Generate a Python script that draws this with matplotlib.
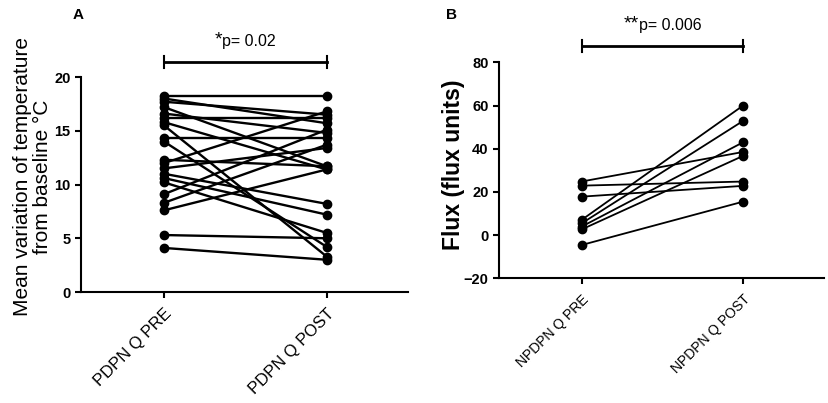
"""Paired pre/post plots, panels A and B"""
import matplotlib
matplotlib.use("Agg")
import matplotlib.pyplot as plt

plt.rcParams['font.family'] = ['Liberation Sans', 'DejaVu Sans']

# panel A: temperature variation (degC), one entry per subject
categories_a = ["PDPN Q PRE", "PDPN Q POST"]
pre_a = [18.2, 18.0, 17.7, 17.2, 16.6, 16.2, 15.8, 15.5, 14.3, 14.0, 12.3,
         12.0, 11.5, 11.0, 10.6, 10.2, 9.1, 8.3, 7.6, 5.3, 4.1]
post_a = [18.2, 15.7, 16.5, 11.7, 14.8, 16.2, 11.4, 3.3, 14.3, 4.2, 11.7,
          16.8, 13.4, 8.2, 7.2, 5.5, 15.1, 13.7, 11.4, 5.0, 3.0]
yticks_a = [0, 5, 10, 15, 20]
sig_a = "p= 0.02"
stars_a = "*"

# panel B: flux (flux units)
categories_b = ["NPDPN Q PRE", "NPDPN Q POST"]
pre_b = [24.8, 22.9, 17.8, 7.0, 5.4, 3.9, 2.6, -4.6]
post_b = [38.5, 24.8, 22.8, 60.0, 52.9, 43.0, 36.7, 15.5]
yticks_b = [-20, 0, 20, 40, 60, 80]
sig_b = "p= 0.006"
stars_b = "**"


def paired_panel(ax, pre, post, cats, yticks, lw, xfs):
    for a, b in zip(pre, post):
        ax.plot([0, 1], [a, b], color='black', lw=lw, marker='o',
                markersize=6, clip_on=False, zorder=3)
    ax.set_xlim(-0.51, 1.5)
    ax.set_ylim(yticks[0], yticks[-1])
    ax.set_yticks(yticks)
    ax.set_xticks([0, 1])
    ax.set_xticklabels(cats, rotation=45, ha='right', rotation_mode='anchor',
                       fontsize=xfs)
    for lab in ax.get_yticklabels():
        lab.set_fontweight('bold')
        lab.set_fontsize(10.5)
    for s in ['top', 'right']:
        ax.spines[s].set_visible(False)
    for s in ['left', 'bottom']:
        ax.spines[s].set_linewidth(1.5)
    ax.tick_params(width=1.5, length=4, direction='out')
    ax.tick_params(axis='x', pad=6)


def sig_bar(ax, y, cap, stars, text):
    ax.plot([0, 1], [y, y], color='black', lw=2, clip_on=False)
    for x in (0, 1):
        ax.plot([x, x], [y - cap, y + cap], color='black', lw=1.5, clip_on=False)
    # measure the combined label so stars + p-value stay centred on the bar
    r = fig.canvas.get_renderer()
    s = ax.text(0, 0, stars, fontsize=14)
    p = ax.text(0, 0, text, fontsize=11.5)
    w = s.get_window_extent(r).width + p.get_window_extent(r).width
    s.remove()
    p.remove()
    xc, yb = ax.transData.transform((0.5, y + 2.2 * cap))
    inv = ax.transData.inverted()
    x0, y0 = inv.transform((xc - w / 2, yb))
    s = ax.text(x0, y0, stars, ha='left', va='bottom', fontsize=14)
    sb = s.get_window_extent(r)
    x1, _ = inv.transform((sb.x1, sb.y0))
    ax.text(x1, y0, text, ha='left', va='bottom', fontsize=11.5)


fig = plt.figure(figsize=(8.29, 4.03), dpi=100)
ax1 = fig.add_axes([0.0977, 0.2754, 0.3945, 0.5335])
ax2 = fig.add_axes([0.602, 0.3094, 0.392, 0.536])

paired_panel(ax1, pre_a, post_a, categories_a, yticks_a, 1.7, 12)
paired_panel(ax2, pre_b, post_b, categories_b, yticks_b, 1.3, 10)

ax1.set_ylabel("Mean variation of temperature\nfrom baseline \u00b0C", fontsize=15,
               linespacing=1.05)
ax1.yaxis.set_label_coords(-0.088, 0.537)
ax2.set_ylabel("Flux (flux units)", fontsize=16.5, fontweight='bold')
ax2.yaxis.set_label_coords(-0.105, 0.528)

fig.text(78 / 829, 1 - 15 / 403, "A", fontsize=11, fontweight='bold', ha='center', va='center')
fig.text(452 / 829, 1 - 15 / 403, "B", fontsize=11, fontweight='bold', ha='center', va='center')

fig.canvas.draw()
sig_bar(ax1, 21.4, 0.55, stars_a, sig_a)
sig_bar(ax2, 87.5, 2.8, stars_b, sig_b)

fig.savefig("out.png", dpi=100)
